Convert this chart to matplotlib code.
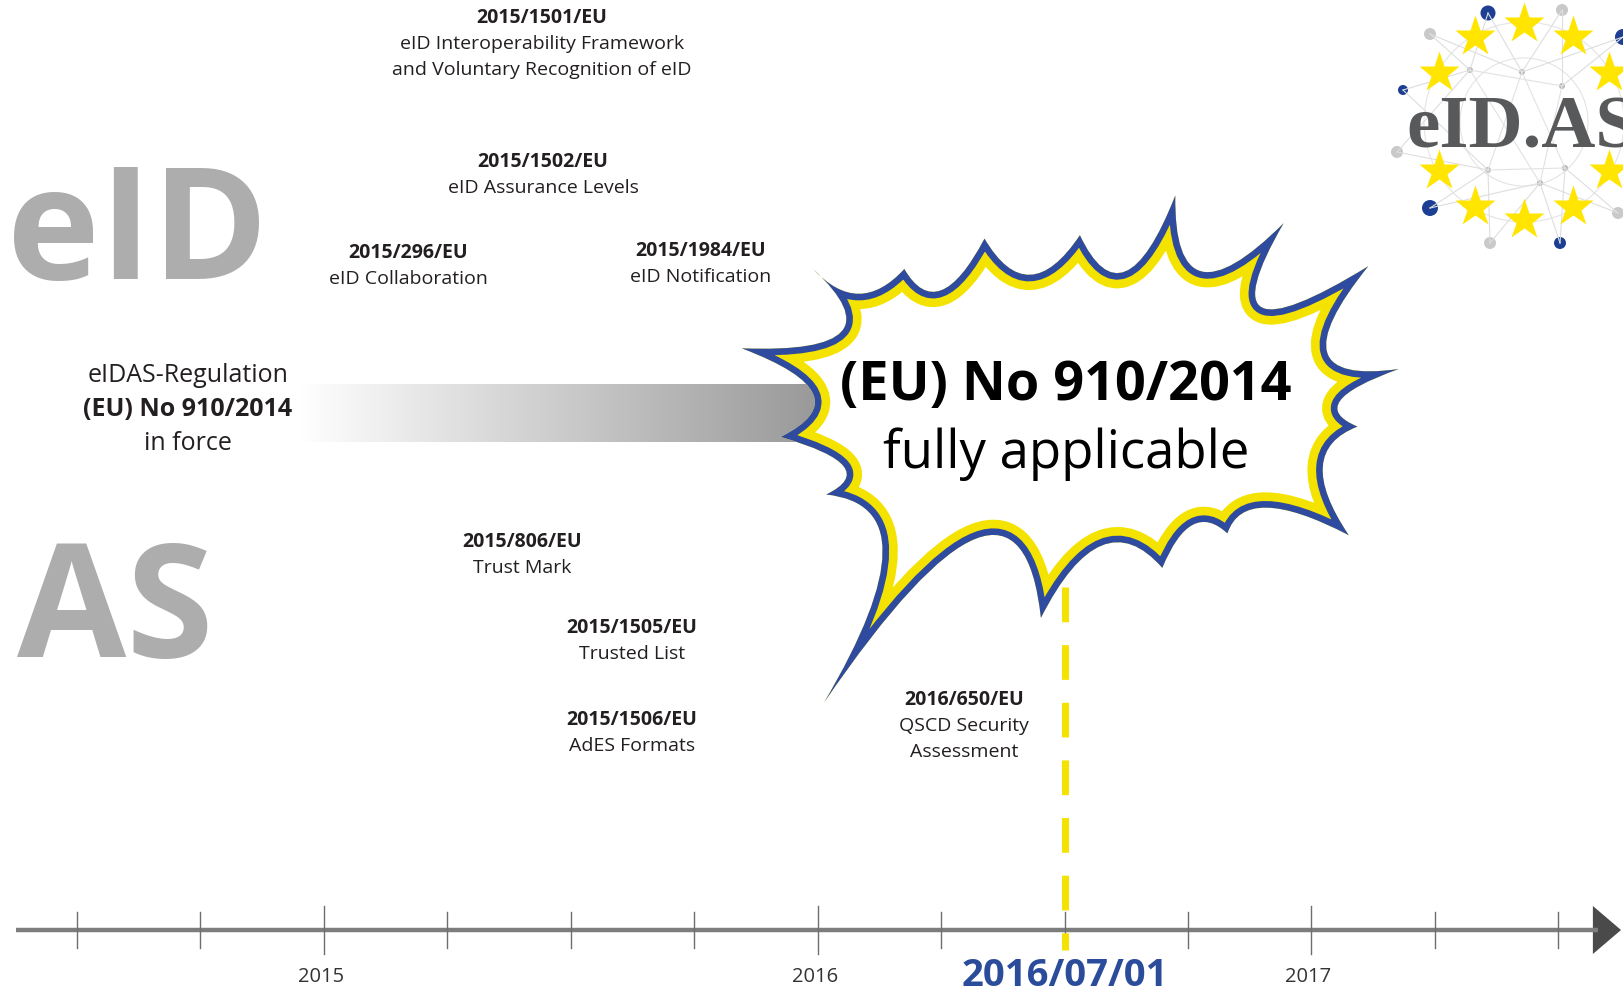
import numpy as np
import matplotlib.pyplot as plt
from matplotlib.path import Path
from matplotlib.patches import PathPatch, Circle, Polygon
from matplotlib.colors import LinearSegmentedColormap

plt.rcParams['font.family'] = ['Open Sans', 'DejaVu Sans']

W, H = 1623, 994

# ---- timeline data (x in years) ----
year_left, year_right = 2014.344, 2017.631
line_start, line_end = 2014.377, 2017.58
tick_years = [2014.5, 2014.75, 2015.0, 2015.25, 2015.5, 2015.75, 2016.0,
              2016.25, 2016.5, 2016.75, 2017.0, 2017.25, 2017.5]
label_years = [2015.0, 2016.0, 2017.0]
year_labels = ['2015', '2016', '2017']
key_date = 2016.5
key_date_label = '2016/07/01'
in_force_span = (2014.95, 2016.5)

# ---- implementing acts ----
event_codes = ['2015/1501/EU', '2015/1502/EU', '2015/296/EU', '2015/1984/EU',
               '2015/806/EU', '2015/1505/EU', '2015/1506/EU', '2016/650/EU']
event_lines = [['eID Interoperability Framework', 'and Voluntary Recognition of eID'],
               ['eID Assurance Levels'],
               ['eID Collaboration'],
               ['eID Notification'],
               ['Trust Mark'],
               ['Trusted List'],
               ['AdES Formats'],
               ['QSCD Security', 'Assessment']]
event_xy = [(542, 16), (543, 160), (408, 251), (701, 249),
            (522, 540), (632, 626), (632, 718), (964, 698)]

regulation_lines = ['eIDAS-Regulation', '(EU) No 910/2014', 'in force']
burst_lines = ['(EU) No 910/2014', 'fully applicable']

# starburst outline: spike tips and the dip between each tip and the next
burst_tips = [(741.7, 348.3), (813.2, 269.0), (904.3, 269.0), (984.5, 238.6),
              (1079.9, 235.2), (1175.3, 195.5), (1283.7, 223.1), (1368.3, 266.2),
              (1398.7, 369.0), (1357.5, 426.6), (1348.8, 535.2), (1227.4, 533.4),
              (1162.3, 567.9), (1040.9, 617.9), (824.1, 702.4), (826.2, 494.5),
              (780.7, 436.9)]
burst_dips = [(841.4, 331.7), (858.8, 293.8), (941.2, 290.3), (1030.1, 274.8),
              (1125.5, 271.4), (1201.4, 271.4), (1262.1, 307.6), (1327.1, 352.4),
              (1340.1, 400.7), (1322.8, 466.2), (1266.4, 507.6), (1192.7, 524.8),
              (1101.6, 545.5), (975.9, 538.6), (882.6, 552.4), (843.6, 466.2),
              (813.2, 393.8)]

# logo
logo_center = (1524, 122)
star_angles = [150, 120, 90, 60, 30, -30, -60, -90, -120, -150]
blue_dots = [(1488, 13, 7.5), (1623, 37, 8), (1403, 90, 5), (1430, 208, 8), (1560, 243, 6)]
grey_dots = [(1562, 10, 6), (1430, 34, 6), (1397, 152, 6), (1490, 243, 6), (1618, 213, 6)]
small_dots = [(1470, 70), (1522, 72), (1562, 86), (1488, 170), (1540, 183), (1565, 168)]

BLUE = '#2f4b9f'
YELLOW = '#f4e300'
TEXT = '#231f20'
GREY = '#adadad'

fig = plt.figure(figsize=(W / 100, H / 100), dpi=100)
ax_bar = fig.add_axes([0, 0, 1, 1])
deco = fig.add_axes([0, 0, 1, 1])
ax_time = fig.add_axes([0, 0, 1, 1])

# gradient bar "in force"
cmap = LinearSegmentedColormap.from_list('fade', [(0, '#ffffff'), (0.67, '#9a9a9a'), (1, '#7c7c7c')])
grad = np.linspace(0, 1, 512).reshape(1, -1)
ax_bar.imshow(grad, extent=[in_force_span[0], in_force_span[1], 442, 384],
              aspect='auto', cmap=cmap, interpolation='bilinear')

for a in (ax_bar, ax_time):
    a.set_xlim(year_left, year_right)
    a.set_ylim(H, 0)
deco.set_xlim(0, W)
deco.set_ylim(H, 0)
for a in (ax_bar, deco, ax_time):
    a.axis('off')
    a.patch.set_alpha(0)

# big grey letters
deco.text(7, 279, 'eID', fontsize=113, fontweight='bold', color=GREY, ha='left', va='baseline')
deco.text(17, 657, 'AS', fontsize=114, fontweight='bold', color=GREY, ha='left', va='baseline')

# regulation in force
for k, line in enumerate(regulation_lines):
    deco.text(188, 382 + 34 * k, line, fontsize=18, ha='center', va='baseline', color=TEXT,
              fontweight='bold' if k == 1 else 'normal')

# events
for code, lines, (px, py) in zip(event_codes, event_lines, event_xy):
    deco.text(px, py + 7, code, fontsize=14, fontweight='bold', ha='center', va='baseline', color=TEXT)
    for k, line in enumerate(lines, 1):
        deco.text(px, py + 7 + 26 * k, line, fontsize=14, ha='center', va='baseline', color=TEXT)

# starburst (bands drawn inside the outline)
verts = [burst_tips[0]]
codes = [Path.MOVETO]
n = len(burst_tips)
for i in range(n):
    t0 = np.array(burst_tips[i])
    t1 = np.array(burst_tips[(i + 1) % n])
    ctrl = 2 * np.array(burst_dips[i]) - (t0 + t1) / 2
    verts += [tuple(ctrl), tuple(t1)]
    codes += [Path.CURVE3, Path.CURVE3]
verts.append(burst_tips[0])
codes.append(Path.CLOSEPOLY)
burst = Path(verts, codes)
body = PathPatch(burst, fc='white', ec='none')
deco.add_patch(body)
band_y = PathPatch(burst, fc='none', ec=YELLOW, lw=22, joinstyle='round')
deco.add_patch(band_y)
band_y.set_clip_path(body)
band_b = PathPatch(burst, fc='none', ec=BLUE, lw=9.5, joinstyle='round')
deco.add_patch(band_b)
band_b.set_clip_path(body)
deco.text(1066, 400, burst_lines[0], fontsize=39, fontweight='bold', ha='center', va='baseline', color='black')
deco.text(1066, 468, burst_lines[1], fontsize=38, ha='center', va='baseline', color='black')

# logo: network
cx, cy = logo_center
for r in (64, 100):
    deco.add_patch(Circle((cx, cy), r, fc='none', ec='#e4e4e4', lw=0.8))
outer = [(x, y) for x, y, _ in blue_dots + grey_dots]
for (x0, y0) in outer:
    near = sorted(small_dots, key=lambda p: (p[0] - x0) ** 2 + (p[1] - y0) ** 2)[:2]
    for (x1, y1) in near:
        deco.plot([x0, x1], [y0, y1], color='#dedede', lw=0.8)
for i in range(len(small_dots)):
    x0, y0 = small_dots[i]
    x1, y1 = small_dots[(i + 2) % len(small_dots)]
    deco.plot([x0, x1], [y0, y1], color='#e2e2e2', lw=0.8)
for x, y, r in grey_dots:
    deco.add_patch(Circle((x, y), r, fc='#c9c9c9', ec='none'))
for x, y, r in blue_dots:
    deco.add_patch(Circle((x, y), r, fc='#1c3f94', ec='none'))
for x, y in small_dots:
    deco.add_patch(Circle((x, y), 3, fc='#b8b8b8', ec='none'))
sx = [cx + 98 * np.cos(np.radians(a)) for a in star_angles]
sy = [cy - 98 * np.sin(np.radians(a)) for a in star_angles]
deco.plot(sx, sy, ls='none', marker='*', ms=31, color='#ffe500', mec='none')
deco.text(1406, 148, 'eID.AS', fontsize=54, fontweight='bold', family=['Liberation Serif', 'DejaVu Serif'],
          color='#58595b', ha='left', va='baseline')

# timeline
ax_time.plot([line_start, line_end], [930, 930], color='#7d7d7d', lw=3.2, solid_capstyle='butt')
ax_time.add_patch(Polygon([(line_end - 0.01, 906), (year_right - 0.004, 930), (line_end - 0.01, 954)],
                          closed=True, fc='#4a4a4a', ec='none'))
for t in tick_years:
    h = 24 if t in label_years else 18
    ax_time.plot([t, t], [930 - h, 930 + h], color='#6e6e6e', lw=1.0)
for t, lab in zip(label_years, year_labels):
    ax_time.text(t - 0.006, 982, lab, fontsize=14.5, ha='center', va='baseline', color='#333333')
ax_time.plot([key_date, key_date], [587, 950], color=YELLOW, lw=5, dashes=(5, 3.3), solid_capstyle='butt')
ax_time.text(key_date, 986, key_date_label, fontsize=27.5, fontweight='bold', ha='center', va='baseline',
             color='#2b4c9b')

fig.savefig('out.png', dpi=100, facecolor='white')
